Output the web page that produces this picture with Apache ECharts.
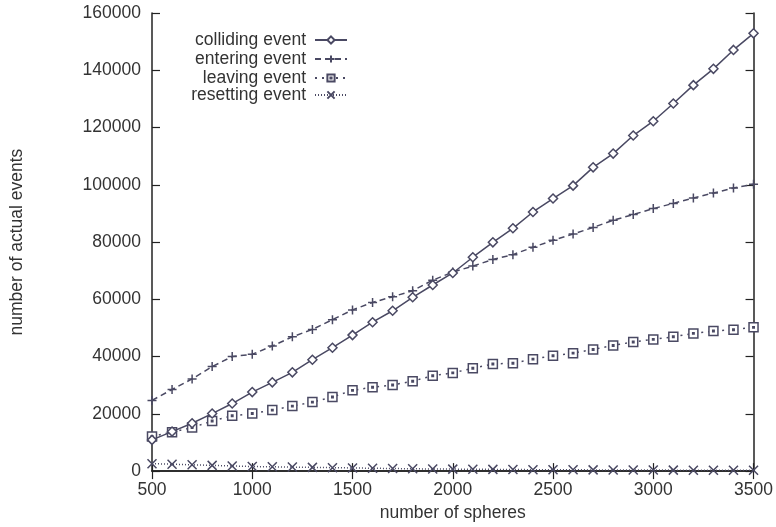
<!DOCTYPE html>
<html>
<head>
<meta charset="utf-8">
<script src="https://cdn.jsdelivr.net/npm/echarts@6/dist/echarts.min.js"></script>
<style>html,body{margin:0;padding:0;background:#fff}#c{width:776px;height:527px}</style>
</head>
<body>
<div id="c"></div>
<script>
var spheres = [500,600,700,800,900,1000,1100,1200,1300,1400,1500,1600,1700,1800,1900,2000,2100,2200,2300,2400,2500,2600,2700,2800,2900,3000,3100,3200,3300,3400,3500];
var colliding = [10900,13800,16700,20100,23600,27600,31000,34500,38900,43100,47500,52000,56000,60700,65000,69200,74700,79900,84800,90500,95200,99700,106100,110900,117200,122200,128400,134800,140500,147100,152900];
var entering = [24700,28500,32200,36500,40000,40800,43700,46900,49500,52900,56300,58900,60900,63000,66700,69500,71600,73900,75600,78200,80600,82800,85100,87600,89600,91700,93500,95400,97100,98900,100200];
var leaving = [12100,13600,15200,17500,19300,20100,21300,22700,24100,25900,28200,29300,30100,31400,33300,34300,35900,37400,37700,39100,40300,41200,42500,43900,45100,46000,46900,48100,48900,49400,50200];
var resetting = [2600,2400,2200,2000,1800,1600,1500,1400,1300,1200,1100,1000,900,800,750,700,650,600,550,500,480,450,420,400,380,360,340,320,300,290,280];
var seriesNames = ['colliding event','entering event','leaving event','resetting event'];

var C = '#4a4963';
var AX = '#222';
var FONT = 'Liberation Sans, Arial, sans-serif';
var FS = 17.5;

function pairs(ys){ return spheres.map(function(x,i){ return [x, ys[i]]; }); }

var symbols = [
  'path://M5,0L10,5L5,10L0,5Z',
  'path://M5,0L5,10M0,5L10,5',
  'path://M0,0L10,0L10,10L0,10ZM4.2,4.2L5.8,4.2L5.8,5.8L4.2,5.8Z',
  'path://M0,0L10,10M10,0L0,10'
];
var dashes = ['solid', [6,4], [2,5], [1,2]];
var datas = [colliding, entering, leaving, resetting];

var series = datas.map(function(d, i){
  return {
    name: seriesNames[i],
    type: 'line',
    data: pairs(d),
    symbol: symbols[i],
    symbolSize: 9,
    showAllSymbol: true,
    lineStyle: {color: C, width: 1.5, type: dashes[i]},
    itemStyle: {color: i===0||i===2 ? '#fff' : 'none', borderColor: C, borderWidth: 1.5},
    emphasis: {disabled: true},
    animation: false,
    z: 5 - i
  };
});

var legendTops = [31, 50, 69, 86];
var legends = seriesNames.map(function(n, i){
  return {
    data: [n],
    orient: 'vertical',
    align: 'right',
    right: 428,
    top: legendTops[i],
    itemWidth: 32,
    itemHeight: 9,
    itemGap: 0,
    padding: 0,
    selectedMode: false,
    textStyle: {fontFamily: FONT, fontSize: FS, color: '#333', padding: [0, 4, 0, 0]}
  };
});

var axisLineStyle = {lineStyle: {color: AX, width: 1.5}};
var tickStyle = {inside: true, length: 8, lineStyle: {color: AX, width: 1.2}};
function plain(v){ return String(v); }

var option = {
  animation: false,
  backgroundColor: '#fff',
  grid: {left: 152, right: 20, top: 13, bottom: 50, containLabel: false},
  legend: legends,
  xAxis: [{
    type: 'value', min: 500, max: 3500, interval: 500,
    position: 'bottom',
    name: 'number of spheres', nameLocation: 'middle', nameGap: 27,
    nameTextStyle: {fontFamily: FONT, fontSize: FS, color: '#333'},
    axisLine: axisLineStyle, axisTick: tickStyle, splitLine: {show: false},
    axisLabel: {fontFamily: FONT, fontSize: FS, color: '#333', margin: 10, formatter: plain}
  }, {
    type: 'value', min: 500, max: 3500, interval: 500,
    position: 'top',
    axisLine: axisLineStyle, axisTick: tickStyle, splitLine: {show: false},
    axisLabel: {show: false}
  }],
  yAxis: [{
    type: 'value', min: 0, max: 160000, interval: 20000,
    position: 'left',
    name: 'number of actual events', nameLocation: 'middle', nameGap: 126, nameRotate: 90,
    nameTextStyle: {fontFamily: FONT, fontSize: FS, color: '#333'},
    axisLine: Object.assign({show: true}, axisLineStyle), axisTick: tickStyle, splitLine: {show: false},
    axisLabel: {fontFamily: FONT, fontSize: FS, color: '#333', margin: 11, formatter: plain}
  }, {
    type: 'value', min: 0, max: 160000, interval: 20000,
    position: 'right',
    axisLine: Object.assign({show: true}, axisLineStyle), axisTick: tickStyle, splitLine: {show: false},
    axisLabel: {show: false}
  }],
  series: series
};

var chart = echarts.init(document.getElementById('c'), null, {renderer: 'canvas'});
chart.setOption(option);
</script>
</body>
</html>
